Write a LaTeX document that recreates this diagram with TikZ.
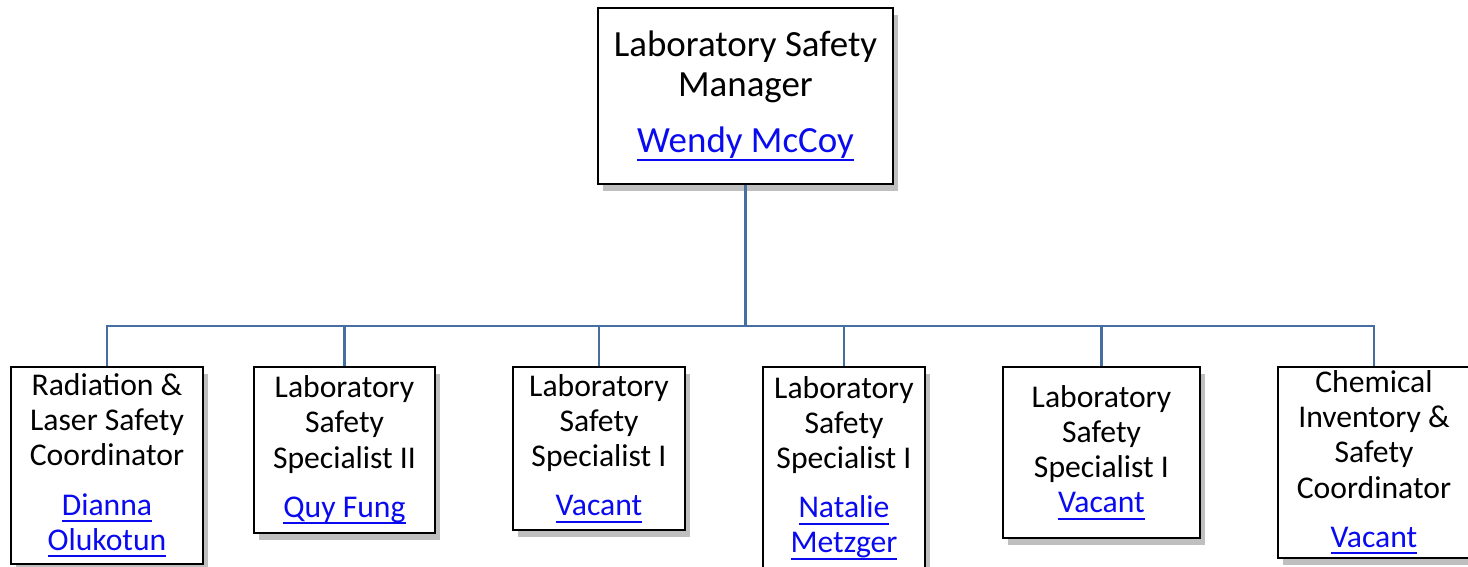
\documentclass[tikz,border=0pt]{standalone}
\usepackage{fontspec}
\setmainfont{Carlito}
\usetikzlibrary{shadows}

\definecolor{linkblue}{RGB}{10,10,240}
\definecolor{connblue}{RGB}{70,110,160}
\newsavebox{\staffbox}
\newcommand{\staff}[1]{\textcolor{linkblue}{\sbox{\staffbox}{#1}%
  \rlap{\rule[-0.22em]{\wd\staffbox}{0.06em}}\usebox{\staffbox}}}

\begin{document}
\begin{tikzpicture}[x=0.01cm,y=-0.01cm,
  box/.style={draw=black, line width=0.6pt, fill=white, align=center, inner sep=0pt,
    drop shadow={shadow xshift=0.05cm, shadow yshift=-0.07cm, fill=black!50, opacity=0.5}},
  big/.style={font=\fontsize{10.5}{11.4}\selectfont},
  small/.style={font=\fontsize{9}{10}\selectfont},
  conn/.style={draw=connblue, line width=0.6pt}]

\useasboundingbox (0,0) rectangle (1468,566);

% The manager at the top
\node [box, big, minimum width=2.95cm, minimum height=1.76cm] (mgr) at (745.5,96)
  {Laboratory Safety\\Manager\\[4.5pt]\staff{Wendy McCoy}};

% The six positions below
\node [box, small, minimum width=1.92cm, minimum height=1.97cm] (rad) at (107,465.5)
  {Radiation \&\\Laser Safety\\Coordinator\\[4pt]\staff{Dianna}\\\staff{Olukotun}};
\node [box, small, minimum width=1.81cm, minimum height=1.66cm] (lss2) at (344.5,450)
  {Laboratory\\Safety\\Specialist II\\[4pt]\staff{Quy Fung}};
\node [box, small, minimum width=1.72cm, minimum height=1.63cm] (lssa) at (599,448.5)
  {Laboratory\\Safety\\Specialist I\\[4pt]\staff{Vacant}};
\node [box, small, minimum width=1.62cm, minimum height=2.02cm] (lssb) at (844,468)
  {Laboratory\\Safety\\Specialist I\\[4pt]\staff{Natalie}\\\staff{Metzger}};
\node [box, small, minimum width=1.97cm, minimum height=1.71cm] (lssc) at (1101.5,452.5)
  {Laboratory\\Safety\\Specialist I\\\staff{Vacant}};
\node [box, small, minimum width=1.92cm, minimum height=1.91cm] (chem) at (1374,462.5)
  {Chemical\\Inventory \&\\Safety\\Coordinator\\[4pt]\staff{Vacant}};

% Trunk from the manager down to the bus
\coordinate (bus) at (745.5,326);
\draw [conn, line width=0.9pt] (mgr.south) -- (bus);

% Branches down to each position
\foreach \pos in {rad, lss2, lssa, lssb, lssc, chem} {
  \draw [conn] (bus) -| (\pos.north);
}
\end{tikzpicture}
\end{document}
